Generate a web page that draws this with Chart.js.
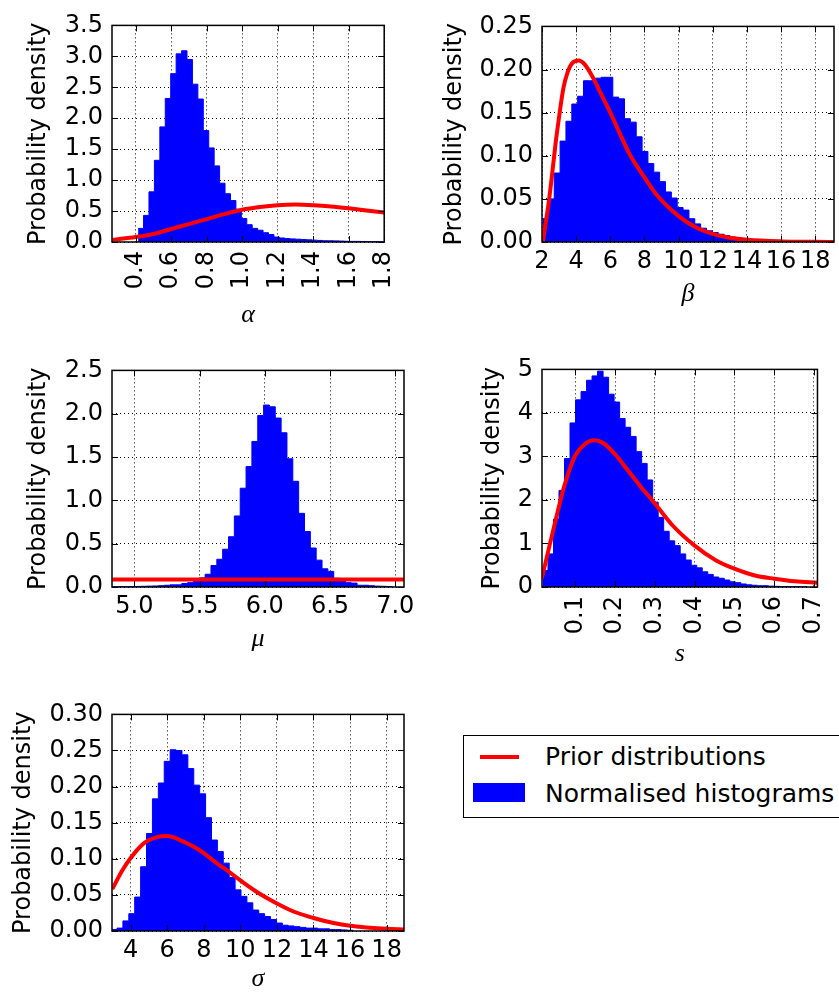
<!DOCTYPE html>
<html>
<head>
<meta charset="utf-8">
<script src="https://cdn.jsdelivr.net/npm/chart.js@4.4.1/dist/chart.umd.min.js"></script>
<style>
  html, body { margin: 0; padding: 0; background: #fff; overflow: hidden; }
  body { position: relative; width: 839px; height: 994px; }
  canvas { position: absolute; }
  .legend { position: absolute; left: 463px; top: 735px; width: 400px; height: 83px;
            border: 1.5px solid #000; box-sizing: border-box; }
  .legend .key { position: absolute; }
  .legend .txt { position: absolute; left: 81px; font: 25px 'DejaVu Sans'; line-height: 29px; color: #000; white-space: nowrap; }
</style>
</head>
<body>
<div class="legend">
  <div class="key" style="left:16px; top:19px; width:39px; height:4px; background:#ff0000;"></div>
  <div class="txt" style="top:6px;">Prior distributions</div>
  <div class="key" style="left:9px; top:47px; width:52px; height:19px; background:#0000ff;"></div>
  <div class="txt" style="top:43px;">Normalised histograms</div>
</div>
<script>
// ---- alpha ----
const alphaBinStart = 0.414, alphaBinWidth = 0.0306;
const alphaDensity = [0.22, 0.43, 0.81, 1.32, 1.86, 2.32, 2.72, 3.04, 3.09, 2.95, 2.55, 2.31, 1.80, 1.52,
  1.23, 0.95, 0.78, 0.67, 0.53, 0.38, 0.28, 0.22, 0.19, 0.15, 0.12, 0.08, 0.065, 0.055, 0.05, 0.045,
  0.04, 0.035, 0.03, 0.025, 0.02, 0.02, 0.018, 0.015, 0.012, 0.01, 0.01, 0.008, 0.006, 0.005, 0.004];
const alphaPriorX = [0.267, 0.3, 0.4, 0.5, 0.6, 0.7, 0.8, 0.9, 1.0, 1.1, 1.2, 1.3, 1.4, 1.5, 1.6, 1.7, 1.8];
const alphaPriorY = [0.035, 0.045, 0.08, 0.13, 0.21, 0.29, 0.37, 0.45, 0.52, 0.565, 0.595, 0.605, 0.595, 0.575, 0.545, 0.51, 0.475];
const alphaTicksX = [0.4, 0.6, 0.8, 1.0, 1.2, 1.4, 1.6, 1.8];
const alphaTicksY = [0, 0.5, 1.0, 1.5, 2.0, 2.5, 3.0, 3.5];

// ---- beta ----
const betaBinStart = 2.03, betaBinWidth = 0.343;
const betaDensity = [0.027, 0.050, 0.08, 0.117, 0.140, 0.160, 0.169, 0.187, 0.187, 0.190, 0.191, 0.191,
  0.168, 0.166, 0.143, 0.139, 0.122, 0.105, 0.091, 0.081, 0.070, 0.058, 0.051, 0.040, 0.037, 0.027,
  0.021, 0.016, 0.013, 0.011, 0.009, 0.0075, 0.0056, 0.0045, 0.0035, 0.003, 0.0025, 0.002, 0.0015,
  0.0012, 0.001, 0.0008];
const betaPriorX = [2.05, 2.2, 2.4, 2.6, 2.8, 3.0, 3.25, 3.5, 3.75, 4.14, 4.5, 5.0, 5.5, 6.0, 6.6, 7.1,
  8.0, 8.7, 10, 11, 12, 13, 14, 16, 18, 19.1];
const betaPriorY = [0.0, 0.02, 0.047, 0.08, 0.115, 0.145, 0.178, 0.197, 0.207, 0.2105, 0.206, 0.19,
  0.17, 0.15, 0.124, 0.103, 0.075, 0.055, 0.030, 0.017, 0.0094, 0.005, 0.0026, 0.0007, 0.0002, 0.0001];
const betaTicksX = [2, 4, 6, 8, 10, 12, 14, 16, 18];
const betaTicksY = [0, 0.05, 0.10, 0.15, 0.20, 0.25];

// ---- mu ----
const muBinStart = 4.826, muBinWidth = 0.0448;
const muDensity = [0.003, 0.004, 0.004, 0.005, 0.006, 0.008, 0.01, 0.012, 0.015, 0.02, 0.025, 0.025,
  0.04, 0.05, 0.08, 0.105, 0.147, 0.248, 0.32, 0.436, 0.58, 0.82, 1.14, 1.39, 1.68, 1.98, 2.10, 2.08,
  1.95, 1.78, 1.48, 1.22, 0.85, 0.64, 0.45, 0.31, 0.21, 0.18, 0.10, 0.07, 0.05, 0.045, 0.02, 0.02,
  0.015, 0.01, 0.008, 0.005];
const muPriorX = [4.8, 5.4, 6.0, 6.6, 7.1];
const muPriorY = [0.088, 0.088, 0.088, 0.088, 0.088];
const muTicksX = [5.0, 5.5, 6.0, 6.5, 7.0];
const muTicksY = [0, 0.5, 1.0, 1.5, 2.0, 2.5];

// ---- s ----
const sBinStart = 0.0175, sBinWidth = 0.01385;
const sDensity = [0.38, 0.76, 1.56, 2.22, 2.95, 3.77, 4.30, 4.49, 4.75, 4.85, 4.96, 4.82, 4.43, 4.25,
  3.87, 3.67, 3.46, 3.11, 2.84, 2.46, 1.95, 1.60, 1.28, 1.06, 0.95, 0.76, 0.62, 0.50, 0.44, 0.35, 0.29,
  0.23, 0.20, 0.16, 0.12, 0.10, 0.07, 0.05, 0.04, 0.03, 0.03, 0.02, 0.015, 0.01, 0.01, 0.008, 0.006, 0.005];
const sPriorX = [0.016, 0.03, 0.043, 0.057, 0.071, 0.085, 0.1, 0.122, 0.146, 0.17, 0.2, 0.233, 0.265,
  0.3, 0.343, 0.4, 0.454, 0.5, 0.549, 0.6, 0.652, 0.709];
const sPriorY = [0.2, 0.75, 1.25, 1.78, 2.28, 2.68, 3.02, 3.27, 3.37, 3.31, 3.05, 2.67, 2.30, 1.92,
  1.43, 0.95, 0.61, 0.42, 0.27, 0.19, 0.13, 0.10];
const sTicksX = [0.1, 0.2, 0.3, 0.4, 0.5, 0.6, 0.7];
const sTicksY = [0, 1, 2, 3, 4, 5];

// ---- sigma ----
const sigmaBinStart = 2.93, sigmaBinWidth = 0.323;
const sigmaDensity = [0.002, 0.004, 0.014, 0.024, 0.047, 0.089, 0.135, 0.183, 0.205, 0.235, 0.251,
  0.250, 0.244, 0.225, 0.202, 0.19, 0.157, 0.126, 0.11, 0.094, 0.074, 0.057, 0.048, 0.039, 0.029,
  0.024, 0.02, 0.016, 0.011, 0.008, 0.007, 0.006, 0.005, 0.004, 0.004, 0.003, 0.003, 0.002, 0.002,
  0.0015, 0.001];
const sigmaPriorX = [3.0, 3.5, 4.0, 4.7, 5.43, 6.0, 6.7, 7.43, 8.0, 8.7, 9.44, 10, 10.9, 12, 12.9, 14,
  15.1, 16, 16.9, 18, 18.95];
const sigmaPriorY = [0.058, 0.082, 0.101, 0.121, 0.130, 0.1315, 0.126, 0.117, 0.108, 0.094, 0.081,
  0.070, 0.054, 0.038, 0.027, 0.018, 0.011, 0.0072, 0.005, 0.003, 0.002];
const sigmaTicksX = [4, 6, 8, 10, 12, 14, 16, 18];
const sigmaTicksY = [0, 0.05, 0.10, 0.15, 0.20, 0.25, 0.30];

// subplot placement: plot box [left, top, right, bottom], centre of y title, centre of x title
const panels = [
  { label: 'α', box: [112, 20, 404, 242], yTitleX: 38, xTitleY: 315, xMin: 0.267, xMax: 1.8, yMax: 3.5,
    xDigits: 1, yDigits: 1, rotate: true, binStart: alphaBinStart, binWidth: alphaBinWidth, density: alphaDensity,
    priorX: alphaPriorX, priorY: alphaPriorY, ticksX: alphaTicksX, ticksY: alphaTicksY },
  { label: 'β', box: [542, 21, 834, 242], yTitleX: 454, xTitleY: 294, xMin: 2, xMax: 19.1, yMax: 0.25,
    xDigits: 0, yDigits: 2, rotate: false, binStart: betaBinStart, binWidth: betaBinWidth, density: betaDensity,
    priorX: betaPriorX, priorY: betaPriorY, ticksX: betaTicksX, ticksY: betaTicksY },
  { label: 'μ', box: [112, 365, 404, 587], yTitleX: 38, xTitleY: 639, xMin: 4.829, xMax: 7.067, yMax: 2.5,
    xDigits: 1, yDigits: 1, rotate: false, binStart: muBinStart, binWidth: muBinWidth, density: muDensity,
    priorX: muPriorX, priorY: muPriorY, ticksX: muTicksX, ticksY: muTicksY },
  { label: 's', box: [542, 364, 834, 587], yTitleX: 492, xTitleY: 654, xMin: 0.0163, xMax: 0.7088, yMax: 5,
    xDigits: 1, yDigits: 0, rotate: true, binStart: sBinStart, binWidth: sBinWidth, density: sDensity,
    priorX: sPriorX, priorY: sPriorY, ticksX: sTicksX, ticksY: sTicksY },
  { label: 'σ', box: [112, 709, 404, 931], yTitleX: 23, xTitleY: 979, xMin: 2.98, xMax: 18.95, yMax: 0.30,
    xDigits: 0, yDigits: 2, rotate: false, binStart: sigmaBinStart, binWidth: sigmaBinWidth, density: sigmaDensity,
    priorX: sigmaPriorX, priorY: sigmaPriorY, ticksX: sigmaTicksX, ticksY: sigmaTicksY }
];

const tickFont = { family: 'DejaVu Sans', size: 24 };
const yTitleFont = { family: 'DejaVu Sans', size: 24, lineHeight: 1.2 };
const xTitleFont = { family: 'Liberation Serif', size: 26, style: 'italic', lineHeight: 1.2 };
const PAD = 18;

// black frame round the axes plus short inward tick marks on every side
const framePlugin = {
  id: 'frame',
  afterDraw(chart) {
    const { ctx, chartArea: a, scales: { x, y } } = chart;
    ctx.save();
    ctx.strokeStyle = '#000';
    ctx.lineWidth = 1;
    ctx.beginPath();
    x.ticks.forEach(t => {
      const px = Math.round(x.getPixelForValue(t.value)) + 0.5;
      ctx.moveTo(px, a.bottom); ctx.lineTo(px, a.bottom - 6);
      ctx.moveTo(px, a.top); ctx.lineTo(px, a.top + 6);
    });
    y.ticks.forEach(t => {
      const py = Math.round(y.getPixelForValue(t.value)) + 0.5;
      ctx.moveTo(a.left, py); ctx.lineTo(a.left + 6, py);
      ctx.moveTo(a.right, py); ctx.lineTo(a.right - 6, py);
    });
    ctx.stroke();
    ctx.lineWidth = 1.5;
    ctx.strokeRect(a.left, a.top, a.right - a.left, a.bottom - a.top);
    ctx.restore();
  }
};

function histPoints(start, width, heights) {
  const pts = heights.map((h, i) => ({ x: start + i * width, y: h }));
  pts.push({ x: start + heights.length * width, y: 0 });
  return pts;
}

panels.forEach(p => {
  const [l, t, r, b] = p.box;
  const left = Math.round(p.yTitleX - yTitleFont.size * yTitleFont.lineHeight / 2);
  const top = t - PAD;
  const width = r + PAD - left;
  const bottom = Math.round(p.xTitleY + xTitleFont.size * xTitleFont.lineHeight / 2);
  const height = bottom - top;

  const canvas = document.createElement('canvas');
  canvas.width = width;
  canvas.height = height;
  canvas.style.left = left + 'px';
  canvas.style.top = top + 'px';
  canvas.style.width = width + 'px';
  canvas.style.height = height + 'px';
  document.body.appendChild(canvas);

  new Chart(canvas, {
    type: 'line',
    data: {
      datasets: [
        {
          label: 'Prior distributions',
          data: p.priorX.map((x, i) => ({ x: x, y: p.priorY[i] })),
          borderColor: '#ff0000',
          borderWidth: 4,
          pointRadius: 0,
          cubicInterpolationMode: 'monotone',
          fill: false
        },
        {
          label: 'Normalised histograms',
          data: histPoints(p.binStart, p.binWidth, p.density),
          stepped: true,
          borderColor: '#0000ff',
          borderWidth: 1,
          backgroundColor: '#0000ff',
          pointRadius: 0,
          fill: 'origin'
        }
      ]
    },
    options: {
      responsive: false,
      animation: false,
      devicePixelRatio: 1,
      layout: { padding: { top: PAD, right: PAD, left: 0, bottom: 0 } },
      plugins: { legend: { display: false }, tooltip: { enabled: false } },
      scales: {
        x: {
          type: 'linear',
          min: p.xMin,
          max: p.xMax,
          z: 1,
          afterBuildTicks: s => { s.ticks = p.ticksX.map(v => ({ value: v })); },
          afterFit: s => { s.height = bottom - b; },
          grid: { color: '#000', lineWidth: 1, drawTicks: false },
          border: { display: false, dash: [1, 3] },
          ticks: {
            font: tickFont,
            color: '#000',
            autoSkip: false,
            padding: p.rotate ? 9 : 5,
            minRotation: p.rotate ? 90 : 0,
            maxRotation: p.rotate ? 90 : 0,
            callback: v => Number(v).toFixed(p.xDigits)
          },
          title: { display: true, text: p.label, font: xTitleFont, color: '#000', padding: 0 }
        },
        y: {
          type: 'linear',
          min: 0,
          max: p.yMax,
          z: 1,
          afterBuildTicks: s => { s.ticks = p.ticksY.map(v => ({ value: v })); },
          afterFit: s => { s.width = l - left; },
          grid: { color: '#000', lineWidth: 1, drawTicks: false },
          border: { display: false, dash: [1, 3] },
          ticks: {
            font: tickFont,
            color: '#000',
            autoSkip: false,
            padding: 9,
            callback: v => Number(v).toFixed(p.yDigits)
          },
          title: { display: true, text: 'Probability density', font: yTitleFont, color: '#000', padding: 0 }
        }
      }
    },
    plugins: [framePlugin]
  });
});
</script>
</body>
</html>
